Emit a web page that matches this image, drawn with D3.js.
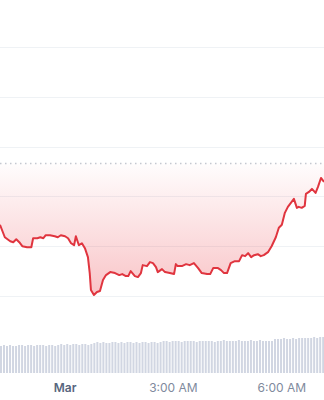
<!DOCTYPE html>
<html lang="en">
<head>
<meta charset="utf-8">
<title>Price chart</title>
<script src="https://cdn.jsdelivr.net/npm/d3@7"></script>
<style>
  html, body { margin: 0; padding: 0; background: #fff; }
  svg { display: block; }
</style>
</head>
<body>
<script>
// minutes from midnight (Mar 1) for each price reading
var priceMinutes = [-108, -100, -91, -86, -81, -76, -71, -63, -56, -53, -46, -41, -36, -32, -25, -17, -12, -7, 0, 5,
  10, 15, 18, 23, 28, 33, 38, 41, 43, 48, 53, 58, 63, 68, 75, 83, 90, 95, 101, 105,
  109, 116, 121, 126, 129, 136, 141, 146, 151, 154, 161, 166, 174, 181, 184, 187, 194, 201, 207, 214,
  221, 227, 236, 241, 246, 254, 259, 264, 269, 275, 282, 289, 294, 299, 304, 309, 314, 320, 325, 330,
  337, 343, 350, 355, 360, 365, 370, 375, 380, 385, 388, 393, 398, 400, 405, 410, 416, 420, 425, 430];
var priceValues = [101.43, 101.18, 101.10, 101.08, 101.14, 101.08, 101.00, 100.98, 100.98, 101.16, 101.16, 101.18, 101.16, 101.22, 101.22, 101.20, 101.18, 101.22, 101.20, 101.16,
  101.06, 101.02, 101.20, 101.02, 101.06, 100.96, 100.78, 100.46, 100.12, 100.02, 100.08, 100.10, 100.32, 100.42, 100.48, 100.46, 100.42, 100.44, 100.40, 100.40,
  100.50, 100.40, 100.38, 100.46, 100.62, 100.60, 100.68, 100.66, 100.58, 100.48, 100.54, 100.48, 100.46, 100.44, 100.64, 100.60, 100.60, 100.64, 100.62, 100.66,
  100.56, 100.46, 100.44, 100.44, 100.56, 100.56, 100.52, 100.46, 100.46, 100.66, 100.70, 100.70, 100.82, 100.80, 100.86, 100.78, 100.82, 100.84, 100.80, 100.82,
  100.88, 101.00, 101.18, 101.37, 101.43, 101.67, 101.79, 101.87, 101.95, 101.77, 101.79, 101.77, 101.81, 102.05, 102.09, 102.15, 102.07, 102.19, 102.37, 102.29];

// previous close (dotted line)
var refValue = 102.67;

// 5-minute volume bars, starting at -108 min
var volumeStart = -108;
var volumeValues = [27, 28, 27, 28, 27, 27, 28, 28, 27, 28, 28, 27, 28, 28, 28, 27, 28, 28, 27, 28,
  29, 28, 29, 28, 29, 29, 28, 29, 29, 28, 29, 30, 31, 30, 31, 30, 30, 31, 31, 30,
  31, 30, 31, 31, 30, 31, 30, 31, 31, 30, 31, 31, 30, 31, 32, 32, 31, 32, 32, 32,
  31, 32, 32, 32, 32, 31, 32, 32, 32, 32, 32, 31, 32, 32, 33, 32, 32, 32, 32, 33,
  32, 32, 32, 33, 32, 32, 33, 32, 32, 32, 32, 34, 34, 34, 35, 34, 34, 35, 34, 35,
  35, 35, 35, 35, 36, 35, 36, 36];

var gridValues = [100, 101, 102, 103, 104, 105];
var tickMinutes = [0, 180, 360];
var tickLabels = ["Mar", "3:00 AM", "6:00 AM"];

var w = 324, h = 400;

function toDate(m) { return new Date(2024, 2, 1, 0, m); }

var x = d3.scaleTime()
  .domain([toDate(-108), toDate(430)])
  .range([0, w]);
var y = d3.scaleLinear()
  .domain([100, 105])
  .range([296, 47]);
var yv = d3.scaleLinear()
  .domain([0, 40])
  .range([373, 333]);

var svg = d3.select("body").append("svg")
  .attr("width", w)
  .attr("height", h);

var defs = svg.append("defs");
var grad = defs.append("linearGradient")
  .attr("id", "fillGrad")
  .attr("gradientUnits", "userSpaceOnUse")
  .attr("x1", 0).attr("x2", 0)
  .attr("y1", y(refValue)).attr("y2", y(100));
grad.append("stop").attr("offset", "0%").attr("stop-color", "#ea3943").attr("stop-opacity", 0.01);
grad.append("stop").attr("offset", "100%").attr("stop-color", "#ea3943").attr("stop-opacity", 0.3);

// gridlines
svg.selectAll("line.grid")
  .data(gridValues)
  .enter().append("line")
  .attr("class", "grid")
  .attr("x1", 0).attr("x2", w)
  .attr("y1", function(d) { return Math.round(y(d)) + 0.5; })
  .attr("y2", function(d) { return Math.round(y(d)) + 0.5; })
  .attr("stroke", "#eff2f5")
  .attr("stroke-width", 1);

// volume bars
svg.selectAll("rect.vol")
  .data(volumeValues)
  .enter().append("rect")
  .attr("class", "vol")
  .attr("x", function(d, i) { return x(toDate(volumeStart + i * 5)); })
  .attr("y", function(d) { return yv(d); })
  .attr("width", 2)
  .attr("height", function(d) { return yv(0) - yv(d); })
  .attr("fill", "#d1d6e2");

var pts = priceMinutes.map(function(m, i) { return { t: toDate(m), v: priceValues[i] }; });

// area between price and previous close
var area = d3.area()
  .x(function(d) { return x(d.t); })
  .y0(y(refValue))
  .y1(function(d) { return y(d.v); });
svg.append("path")
  .datum(pts)
  .attr("d", area)
  .attr("fill", "url(#fillGrad)");

// previous close dotted line
svg.append("line")
  .attr("x1", 0).attr("x2", w)
  .attr("y1", Math.round(y(refValue)) + 0.5)
  .attr("y2", Math.round(y(refValue)) + 0.5)
  .attr("stroke", "#c3c8d0")
  .attr("stroke-width", 1.3)
  .attr("stroke-dasharray", "1.5,3.5");

// price line
var line = d3.line()
  .x(function(d) { return x(d.t); })
  .y(function(d) { return y(d.v); });
svg.append("path")
  .datum(pts)
  .attr("d", line)
  .attr("fill", "none")
  .attr("stroke", "#e0353f")
  .attr("stroke-width", 2)
  .attr("stroke-linejoin", "round");

// x axis labels
svg.selectAll("text.tick")
  .data(tickMinutes)
  .enter().append("text")
  .attr("class", "tick")
  .attr("x", function(d) { return x(toDate(d)); })
  .attr("y", 392)
  .attr("text-anchor", "middle")
  .attr("font-family", "Inter, 'Noto Sans', sans-serif")
  .attr("font-size", 12)
  .attr("font-weight", function(d, i) { return i === 0 ? 600 : 400; })
  .attr("fill", function(d, i) { return i === 0 ? "#58667e" : "#808a9d"; })
  .text(function(d, i) { return tickLabels[i]; });
</script>
</body>
</html>
